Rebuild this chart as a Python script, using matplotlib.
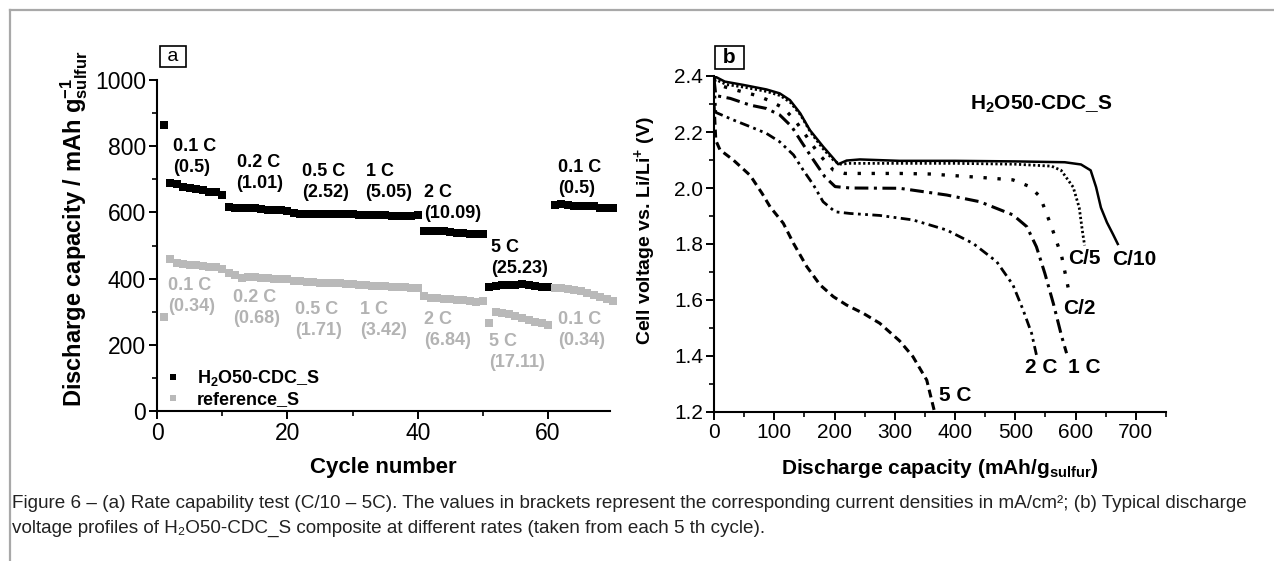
import matplotlib
matplotlib.use("Agg")
import matplotlib.pyplot as plt
from matplotlib.lines import Line2D
from matplotlib.ticker import MultipleLocator, FormatStrFormatter
from matplotlib import font_manager

# fonts: Arial-like for everything, bold mathtext for the axis labels
plt.rcParams['font.family'] = ['Liberation Sans', 'DejaVu Sans']
plt.rcParams['mathtext.fontset'] = 'custom'
plt.rcParams['mathtext.rm'] = 'Liberation Sans:bold'
plt.rcParams['mathtext.it'] = 'Liberation Sans:bold'
plt.rcParams['mathtext.bf'] = 'Liberation Sans:bold'
plt.rcParams['mathtext.default'] = 'rm'

names = {f.name for f in font_manager.fontManager.ttflist}
narrow = 'Liberation Sans Narrow' if 'Liberation Sans Narrow' in names else 'Liberation Sans'

# ---------------- data, panel a (rate capability) ----------------
cycles = list(range(1, 71))
cap_h2o = [865,
           690, 685, 677, 673, 672, 668, 663, 661, 652,
           615, 612, 613, 614, 612, 610, 608, 607, 606, 605,
           598, 596, 594, 594, 595, 595, 594, 594, 594, 594,
           593, 592, 592, 591, 591, 590, 590, 590, 590, 592,
           545, 544, 545, 544, 540, 538, 537, 536, 536, 536,
           376, 378, 380, 380, 382, 383, 381, 378, 376, 375,
           622, 625, 622, 618, 618, 620, 618, 614, 612, 612]
cap_ref = [285,
           460, 447, 443, 441, 440, 438, 436, 434, 430,
           416, 412, 403, 404, 404, 402, 401, 400, 399, 398,
           394, 392, 390, 389, 388, 387, 386, 386, 385, 384,
           382, 380, 379, 378, 377, 376, 375, 374, 373, 372,
           346, 342, 340, 338, 337, 336, 334, 332, 330, 331,
           267, 300, 297, 293, 287, 282, 276, 270, 265, 261,
           373, 371, 369, 366, 362, 357, 351, 345, 339, 333]

h2o_labels = ['0.1 C\n(0.5)', '0.2 C\n(1.01)', '0.5 C\n(2.52)', '1 C\n(5.05)',
              '2 C\n(10.09)', '5 C\n(25.23)', '0.1 C\n(0.5)']
ref_labels = ['0.1 C\n(0.34)', '0.2 C\n(0.68)', '0.5 C\n(1.71)', '1 C\n(3.42)',
              '2 C\n(6.84)', '5 C\n(17.11)', '0.1 C\n(0.34)']

# ---------------- data, panel b (discharge profiles) ----------------
cap_c10 = [0, 18, 49, 87, 109, 126, 143, 159, 181, 198, 206, 220, 242, 308, 400, 500, 582, 609, 625, 634, 642, 652, 662, 670]
v_c10 = [2.40, 2.38, 2.368, 2.352, 2.338, 2.314, 2.267, 2.207, 2.148, 2.106, 2.085, 2.098, 2.102, 2.097, 2.097, 2.095, 2.092, 2.084, 2.063, 2.003, 1.93, 1.877, 1.835, 1.80]

cap_c5 = [0, 20, 50, 87, 110, 127, 144, 160, 181, 198, 208, 225, 300, 400, 500, 560, 576, 596, 606, 612, 615]
v_c5 = [2.39, 2.37, 2.36, 2.345, 2.33, 2.305, 2.26, 2.20, 2.14, 2.10, 2.085, 2.088, 2.088, 2.088, 2.085, 2.078, 2.063, 2.003, 1.93, 1.835, 1.795]

cap_c2 = [0, 4, 29, 68, 90, 115, 134, 154, 173, 190, 198, 217, 253, 308, 358, 441, 496, 524, 541, 560, 577, 589]
v_c2 = [2.39, 2.37, 2.354, 2.332, 2.314, 2.286, 2.243, 2.183, 2.124, 2.082, 2.064, 2.052, 2.052, 2.052, 2.050, 2.038, 2.029, 2.005, 1.969, 1.862, 1.755, 1.63]

cap_1c = [0, 3, 27, 60, 87, 109, 129, 145, 165, 184, 201, 226, 308, 386, 441, 496, 519, 535, 549, 563, 577, 585]
v_1c = [2.39, 2.33, 2.32, 2.296, 2.284, 2.261, 2.219, 2.165, 2.10, 2.04, 2.005, 2.0, 1.999, 1.975, 1.951, 1.904, 1.862, 1.79, 1.695, 1.588, 1.469, 1.41]

cap_2c = [0, 3, 32, 60, 87, 109, 132, 148, 165, 181, 201, 226, 275, 330, 386, 430, 469, 496, 513, 527, 535]
v_2c = [2.38, 2.27, 2.243, 2.219, 2.195, 2.165, 2.118, 2.064, 2.011, 1.951, 1.915, 1.909, 1.902, 1.886, 1.85, 1.802, 1.737, 1.654, 1.564, 1.481, 1.404]

cap_5c = [0, 3, 10, 32, 60, 80, 93, 115, 132, 154, 176, 198, 220, 248, 275, 308, 330, 353, 366]
v_5c = [2.30, 2.17, 2.136, 2.10, 2.045, 1.98, 1.933, 1.874, 1.802, 1.719, 1.654, 1.612, 1.582, 1.552, 1.517, 1.454, 1.398, 1.314, 1.20]

rate_names = ['C/10', 'C/5', 'C/2', '1 C', '2 C', '5 C']

W, H = 1274, 561
fig = plt.figure(figsize=(W / 100, H / 100), dpi=100)

gray = '#b9b9b9'
gray_txt = '#b3b3b3'


def style_axes(ax, tick_font, size):
    ax.spines['top'].set_visible(False)
    ax.spines['right'].set_visible(False)
    for s in ('left', 'bottom'):
        ax.spines[s].set_linewidth(1.5)
    ax.tick_params(which='major', direction='out', length=6, width=1.4, labelsize=size, pad=2)
    ax.tick_params(which='minor', direction='out', length=3.5, width=1.2)
    for lab in ax.get_xticklabels() + ax.get_yticklabels():
        lab.set_family(tick_font)


# ---------------- panel a ----------------
ax1 = fig.add_axes([157 / W, 1 - 411 / H, 453 / W, 331 / H])
ax1.plot(cycles, cap_h2o, 's', color='black', ms=5.2, mew=0, label='H$_2$O50-CDC_S', clip_on=False)
ax1.plot(cycles, cap_ref, 's', color=gray, ms=5.2, mew=0, label='reference_S', clip_on=False)
ax1.set_xlim(0, 69.5)
ax1.set_ylim(0, 1000)
ax1.xaxis.set_major_locator(MultipleLocator(20))
ax1.xaxis.set_minor_locator(MultipleLocator(10))
ax1.yaxis.set_major_locator(MultipleLocator(200))
ax1.yaxis.set_minor_locator(MultipleLocator(100))
style_axes(ax1, 'Liberation Sans', 16.5)

ax1.set_xlabel('Cycle number', fontsize=16, fontweight='bold')
ax1.xaxis.set_label_coords(0.5, -0.14)
ax1.set_ylabel('Discharge capacity / mAh g$^{-1}_{sulfur}$', fontsize=17, fontweight='bold')
ax1.yaxis.set_label_coords(-0.147, 0.55)

h2o_pos = [(2.5, 767), (12.2, 719), (22.3, 692), (32.0, 692), (41.0, 628), (51.2, 462), (61.5, 704)]
ref_pos = [(1.7, 347), (11.7, 311), (21.2, 275), (31.2, 275), (41.0, 245), (51.0, 178), (61.5, 245)]
for txt, (x, y) in zip(h2o_labels, h2o_pos):
    ax1.text(x, y, txt, fontsize=13, fontweight='bold', color='black',
             ha='left', va='center', linespacing=1.35)
for txt, (x, y) in zip(ref_labels, ref_pos):
    ax1.text(x, y, txt, fontsize=13, fontweight='bold', color=gray_txt,
             ha='left', va='center', linespacing=1.35)

leg = ax1.legend(loc='lower left', bbox_to_anchor=(0.0, -0.025), frameon=False,
                 handlelength=0.6, handletextpad=1.0, labelspacing=0.18,
                 borderaxespad=0.2, markerscale=0.9,
                 prop={'size': 13, 'weight': 'bold'})

ax1.text(0.035, 1.07, ' a ', transform=ax1.transAxes, fontsize=14, ha='center', va='center',
         bbox=dict(boxstyle='square,pad=0.1', fc='white', ec='black', lw=1.2))

# ---------------- panel b ----------------
ax2 = fig.add_axes([714 / W, 1 - 412 / H, 452 / W, 336 / H])
ax2.plot(cap_c10, v_c10, color='black', lw=1.8, ls='-')
ax2.plot(cap_c5, v_c5, color='black', lw=2.0, ls=(0, (0.8, 0.9)))
ax2.plot(cap_c2, v_c2, color='black', lw=2.4, ls=(0, (1, 3.2)))
ax2.plot(cap_1c, v_1c, color='black', lw=2.2, ls=(0, (4.5, 1.8, 1, 1.8)))
ax2.plot(cap_2c, v_2c, color='black', lw=2.0, ls=(0, (3.5, 1.6, 1, 1.6, 1, 1.6)))
ax2.plot(cap_5c, v_5c, color='black', lw=2.2, ls=(0, (2.6, 1.6)))
ax2.set_xlim(0, 750)
ax2.set_ylim(1.2, 2.4)
ax2.xaxis.set_major_locator(MultipleLocator(100))
ax2.xaxis.set_minor_locator(MultipleLocator(50))
ax2.yaxis.set_major_locator(MultipleLocator(0.2))
ax2.yaxis.set_minor_locator(MultipleLocator(0.1))
ax2.yaxis.set_major_formatter(FormatStrFormatter('%.1f'))
style_axes(ax2, narrow, 15)

ax2.set_xlabel('Discharge capacity (mAh/g$_{sulfur}$)', fontsize=15, fontweight='bold')
ax2.xaxis.set_label_coords(0.5, -0.135)
ax2.set_ylabel('Cell voltage vs. Li/Li$^{+}$ (V)', fontsize=14, fontweight='bold')
ax2.yaxis.set_label_coords(-0.123, 0.54)

rate_pos = [(698, 1.743), (615, 1.749), (607, 1.57), (615, 1.36), (543, 1.36), (400, 1.258)]
for txt, (x, y) in zip(rate_names, rate_pos):
    ax2.text(x, y, txt, fontsize=15, fontweight='bold', family=narrow, ha='center', va='center')
ax2.text(543, 2.30, 'H$_2$O50-CDC_S', fontsize=15, fontweight='bold', family=narrow,
         ha='center', va='center')

ax2.text(0.034, 1.055, ' b ', transform=ax2.transAxes, fontsize=15, fontweight='bold',
         ha='center', va='center',
         bbox=dict(boxstyle='square,pad=0.1', fc='white', ec='black', lw=1.2))

# ---------------- page frame and caption ----------------
frame_c = '#a8a8a8'
fig.add_artist(Line2D([10 / W, 1], [1 - 10 / H, 1 - 10 / H], color=frame_c, lw=1.6))
fig.add_artist(Line2D([10 / W, 10 / W], [0, 1 - 10 / H], color=frame_c, lw=1.6))

cap_font = [narrow, 'DejaVu Sans']
line1 = ('Figure 6 \u2013 (a) Rate capability test (C/10 \u2013 5C). The values in brackets represent '
         'the corresponding current densities in mA/cm\u00b2; (b) Typical discharge')
line2 = ('voltage profiles of H\u2082O50-CDC_S composite at different rates '
         '(taken from each 5 th cycle).')
t1 = fig.text(12 / W, 1 - 503 / H, line1, fontsize=12, family=cap_font, color='#222222', va='center')
t2 = fig.text(12 / W, 1 - 528 / H, line2, fontsize=12, family=cap_font, color='#222222', va='center')

# scale caption so the first line spans the same width as in the original
fig.canvas.draw()
w1 = t1.get_window_extent().width
scale = (1255 - 12) / w1
t1.set_fontsize(12 * scale)
t2.set_fontsize(12 * scale)

fig.savefig('out.png', dpi=100)
